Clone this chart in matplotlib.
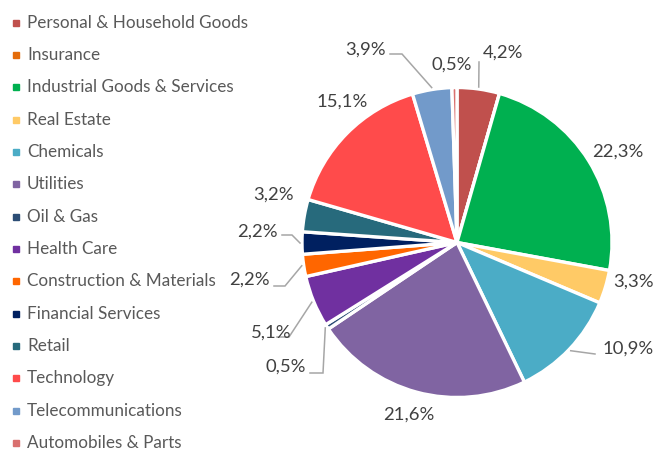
import numpy as np
import matplotlib
matplotlib.use('Agg')
import matplotlib.pyplot as plt

plt.rcParams['font.family'] = ['Lato', 'DejaVu Sans']

sectors = [
    'Personal & Household Goods', 'Insurance', 'Industrial Goods & Services',
    'Real Estate', 'Chemicals', 'Utilities', 'Oil & Gas', 'Health Care',
    'Construction & Materials', 'Financial Services', 'Retail', 'Technology',
    'Telecommunications', 'Automobiles & Parts'
]
weights = [4.2, 0.0, 22.3, 3.3, 10.9, 21.6, 0.5, 5.1, 2.2, 2.2, 3.2, 15.1, 3.9, 0.5]
colors = [
    '#C0504D', '#E46C0A', '#00B050', '#FFCA66', '#4BACC6', '#8064A2', '#2C4D75',
    '#7030A0', '#FF6600', '#002060', '#276A7C', '#FF4B4B', '#729ACA', '#D9706F'
]

W, H = 658, 453
# pie geometry in pixels (image coords, y down)
cx, cy, R = 457, 242.5, 155

# label anchors in image pixels (None = no label)
label_pos = [
    ((483, 53), 'left'), None, ((592, 152), 'left'), ((613, 282), 'left'),
    ((603, 349), 'left'), ((409, 415), 'center'), ((306, 367), 'right'),
    ((292, 333), 'right'), ((270, 280), 'right'), ((278, 232), 'right'),
    ((294, 195), 'right'), ((342, 102), 'center'), ((386, 50), 'right'),
    ((452, 65), 'center'),
]
# leader line bends (after the point on the wedge edge)
leaders = {
    0: [(479, 62)],
    4: [(595, 354)],
    6: [(323, 373), (310, 373)],
    7: [(289, 337), (277, 337)],
    8: [(285, 286), (274, 286)],
    9: [(292, 235), (282, 235)],
    12: [(402, 54), (390, 54)],
}


def fy(y):
    return H - y


fig = plt.figure(figsize=(W / 100, H / 100), dpi=100)
ax = fig.add_axes([0, 0, 1, 1])

ax.pie(weights, colors=colors, startangle=90, counterclock=False,
       center=(cx, fy(cy)), radius=R,
       wedgeprops=dict(edgecolor='white', linewidth=2.4))
ax.set_xlim(0, W)
ax.set_ylim(0, H)
ax.set_aspect('equal')
ax.axis('off')

total = sum(weights)
cum = np.cumsum([0] + weights)
for i, v in enumerate(weights):
    if label_pos[i] is None:
        continue
    (x, y), ha = label_pos[i]
    txt = f'{v:.1f}'.replace('.', ',') + '%'
    ax.text(x, fy(y), txt, ha=ha, va='center', fontsize=13.3, color='#404040')
    if i in leaders:
        mid = (cum[i] + v / 2) / total * 2 * np.pi
        sx = cx + (R + 2) * np.sin(mid)
        sy = cy - (R + 2) * np.cos(mid)
        pts = [(sx, sy)] + leaders[i]
        ax.plot([p[0] for p in pts], [fy(p[1]) for p in pts],
                color='#A6A6A6', lw=1.1, solid_joinstyle='miter')

# legend
for i, name in enumerate(sectors):
    ly = 22.5 + i * 32.35
    ax.plot(16, fy(ly), marker='s', markersize=4.3, color=colors[i], lw=0)
    ax.text(27, fy(ly), name, ha='left', va='center', fontsize=12.3,
            color='#595959')

fig.savefig('out.png', dpi=100)
